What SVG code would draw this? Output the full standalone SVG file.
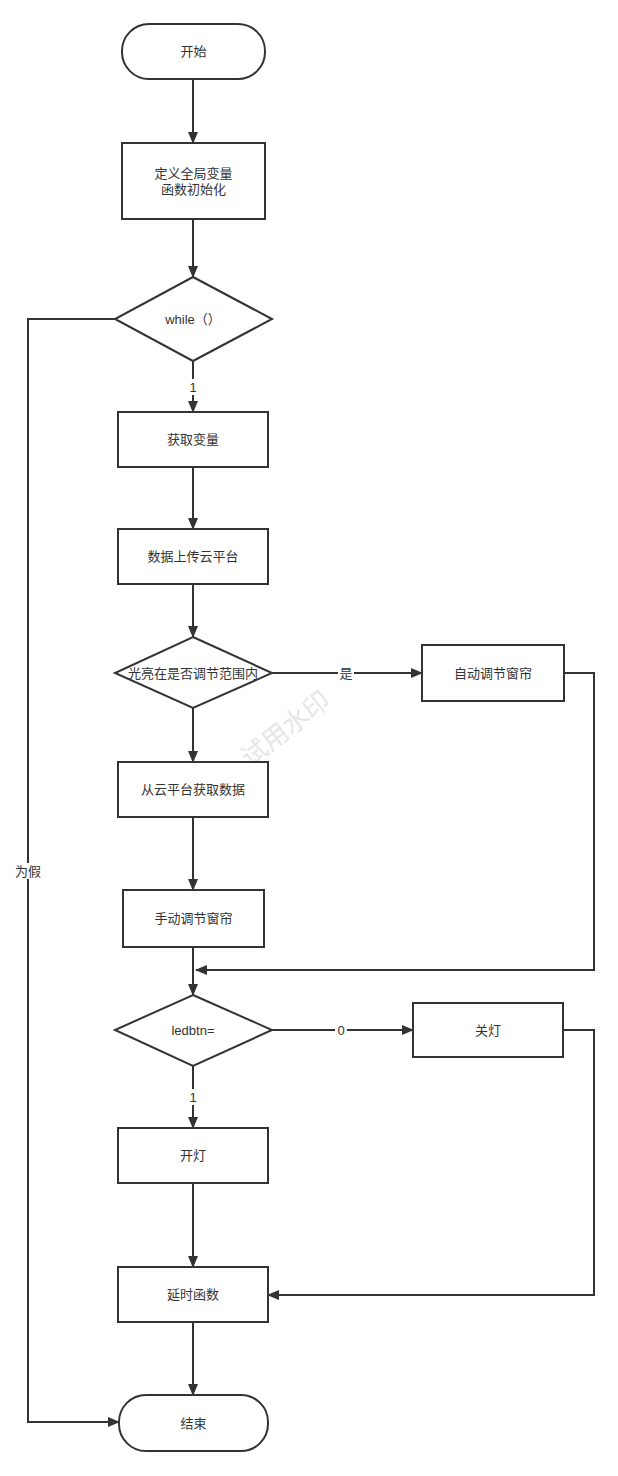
<svg xmlns="http://www.w3.org/2000/svg" width="618" height="1476" viewBox="0 0 618 1476">
<style>
.n{fill:#fff;stroke:#333;stroke-width:2}
.t{font-family:"Liberation Sans","Noto Sans CJK SC",sans-serif;font-size:13px;fill:#333;text-anchor:middle;dominant-baseline:central}
.c{fill:none;stroke:#333;stroke-width:2}
.lb{fill:#fff}
</style>
<defs>
<marker id="a" markerUnits="userSpaceOnUse" markerWidth="12" markerHeight="10" refX="11" refY="5" orient="auto">
<path d="M0,0 L12,5 L0,10 Z" fill="#333"/>
</marker>
</defs>
<rect width="618" height="1476" fill="#fff"/>
<text transform="translate(284,727) rotate(-38)" style="font-family:'Noto Sans CJK SC',sans-serif;font-size:26px;fill:#e6e6e6;text-anchor:middle;dominant-baseline:central">试用水印</text>
<g id="connectors">
<path class="c" d="M193,79 V143" marker-end="url(#a)"/>
<path class="c" d="M193,219 V277" marker-end="url(#a)"/>
<path class="c" d="M193,361 V412" marker-end="url(#a)"/>
<path class="c" d="M193,467 V529" marker-end="url(#a)"/>
<path class="c" d="M193,584 V637" marker-end="url(#a)"/>
<path class="c" d="M272,673 H422" marker-end="url(#a)"/>
<path class="c" d="M193,708 V762" marker-end="url(#a)"/>
<path class="c" d="M193,817 V890" marker-end="url(#a)"/>
<path class="c" d="M193,947 V995" marker-end="url(#a)"/>
<path class="c" d="M564,673 H594 V970 H196" marker-end="url(#a)"/>
<path class="c" d="M272,1030 H413" marker-end="url(#a)"/>
<path class="c" d="M193,1066 V1128" marker-end="url(#a)"/>
<path class="c" d="M193,1183 V1267" marker-end="url(#a)"/>
<path class="c" d="M563,1030 H594 V1295 H268" marker-end="url(#a)"/>
<path class="c" d="M193,1322 V1395" marker-end="url(#a)"/>
<path class="c" d="M115,319 H28 V1422 H119" marker-end="url(#a)"/>
<rect class="lb" x="187" y="379" width="12" height="16"/>
<text class="t" x="193" y="387">1</text>
<rect class="lb" x="338" y="665" width="16" height="16"/>
<text class="t" x="346" y="673">是</text>
<rect class="lb" x="335" y="1022" width="12" height="16"/>
<text class="t" x="341" y="1030">0</text>
<rect class="lb" x="187" y="1089" width="12" height="16"/>
<text class="t" x="193" y="1097">1</text>
<rect class="lb" x="14" y="863" width="28" height="16"/>
<text class="t" x="28" y="871">为假</text>
</g>
<g id="start"><rect class="n" x="122" y="24" width="143" height="55" rx="27"/><text class="t" x="193.5" y="51.5">开始</text></g>
<g id="init"><rect class="n" x="122" y="143" width="143" height="76"/><text class="t" x="193.5" y="173">定义全局变量</text><text class="t" x="193.5" y="189">函数初始化</text></g>
<g id="while"><path class="n" d="M193,277 L272,319 L193,361 L115,319 Z"/><text class="t" x="193" y="319">while（）</text></g>
<g id="getvar"><rect class="n" x="118" y="412" width="150" height="55"/><text class="t" x="193" y="439.5">获取变量</text></g>
<g id="upload"><rect class="n" x="118" y="529" width="150" height="55"/><text class="t" x="193" y="556.5">数据上传云平台</text></g>
<g id="light"><path class="n" d="M193,637 L272,673 L193,708 L115,673 Z"/><text class="t" x="193" y="673">光亮在是否调节范围内</text></g>
<g id="auto"><rect class="n" x="422" y="645" width="142" height="56"/><text class="t" x="493" y="673">自动调节窗帘</text></g>
<g id="cloud"><rect class="n" x="118" y="762" width="150" height="55"/><text class="t" x="193" y="789.5">从云平台获取数据</text></g>
<g id="manual"><rect class="n" x="123" y="890" width="141" height="57"/><text class="t" x="193.5" y="918.5">手动调节窗帘</text></g>
<g id="ledbtn"><path class="n" d="M193,995 L272,1030 L193,1066 L115,1030 Z"/><text class="t" x="193" y="1030">ledbtn=</text></g>
<g id="off"><rect class="n" x="413" y="1003" width="150" height="54"/><text class="t" x="488" y="1030">关灯</text></g>
<g id="on"><rect class="n" x="118" y="1128" width="150" height="55"/><text class="t" x="193" y="1155.5">开灯</text></g>
<g id="delay"><rect class="n" x="118" y="1267" width="150" height="55"/><text class="t" x="193" y="1294.5">延时函数</text></g>
<g id="end"><rect class="n" x="119" y="1395" width="149" height="56" rx="27"/><text class="t" x="193.5" y="1423">结束</text></g>
</svg>
